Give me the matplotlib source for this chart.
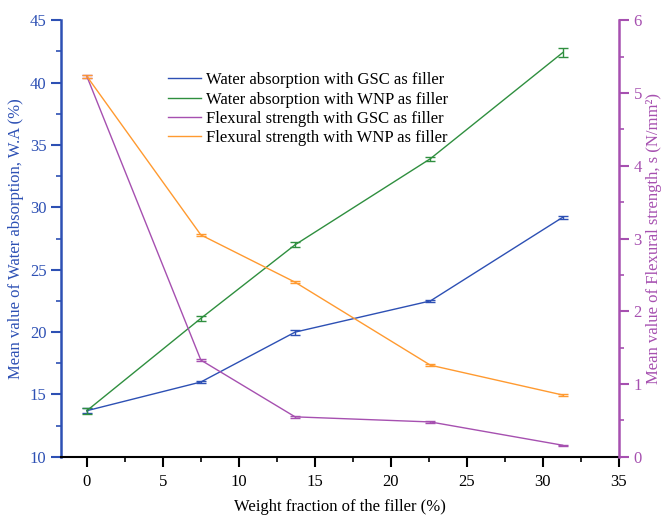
import numpy as np
import matplotlib
matplotlib.use("Agg")
from matplotlib import pyplot as plt
from matplotlib.ticker import MultipleLocator

plt.rcParams['font.family'] = ['Liberation Serif', 'DejaVu Serif']

# filler weight fraction (%)
filler = [0, 7.5, 13.7, 22.6, 31.3]

# water absorption (%)
wa_gsc = [13.7, 16.0, 20.0, 22.5, 29.2]
wa_gsc_err = [0.2, 0.1, 0.2, 0.1, 0.1]
wa_wnp = [13.7, 21.1, 27.0, 33.9, 42.4]
wa_wnp_err = [0.25, 0.2, 0.2, 0.15, 0.35]

# flexural strength (N/mm2)
fs_gsc = [5.23, 1.33, 0.55, 0.48, 0.16]
fs_gsc_err = [0.02, 0.01, 0.01, 0.01, 0.01]
fs_wnp = [5.23, 3.05, 2.40, 1.26, 0.85]
fs_wnp_err = [0.02, 0.01, 0.01, 0.01, 0.01]

blue = '#2d50b4'
green = '#2f8f3f'
purple = '#a650b0'
orange = '#ff9a30'

fig = plt.figure(figsize=(6.65, 5.18), dpi=100)
ax = fig.add_axes([0.0917, 0.118, 0.839, 0.843])
ax2 = ax.twinx()

l1 = ax.errorbar(filler, wa_gsc, yerr=wa_gsc_err, color=blue, lw=1, capsize=3.5,
                 label='Water absorption with GSC as filler')
l2 = ax.errorbar(filler, wa_wnp, yerr=wa_wnp_err, color=green, lw=1, capsize=3.5,
                 label='Water absorption with WNP as filler')
l3 = ax2.errorbar(filler, fs_gsc, yerr=fs_gsc_err, color=purple, lw=1, capsize=3.5,
                  label='Flexural strength with GSC as filler')
l4 = ax2.errorbar(filler, fs_wnp, yerr=fs_wnp_err, color=orange, lw=1, capsize=3.5,
                  label='Flexural strength with WNP as filler')

ax.set_xlim(-1.7, 35)
ax.set_ylim(10, 45)
ax2.set_ylim(0, 6)

ax.xaxis.set_major_locator(MultipleLocator(5))
ax.xaxis.set_minor_locator(MultipleLocator(2.5))
ax.yaxis.set_major_locator(MultipleLocator(5))
ax.yaxis.set_minor_locator(MultipleLocator(2.5))
ax2.yaxis.set_major_locator(MultipleLocator(1))
ax2.yaxis.set_minor_locator(MultipleLocator(0.5))

for a in (ax, ax2):
    a.spines['top'].set_visible(False)
ax2.spines['left'].set_visible(False)
ax2.spines['bottom'].set_visible(False)
ax.spines['right'].set_visible(False)
ax.spines['left'].set_color(blue)
ax.spines['left'].set_linewidth(1.8)
ax2.spines['right'].set_color(purple)
ax2.spines['right'].set_linewidth(1.8)
ax.spines['bottom'].set_linewidth(1.5)

ax.tick_params(axis='x', which='major', direction='out', length=7, width=1.5,
               labelsize=12, pad=5)
ax.tick_params(axis='x', which='minor', direction='out', length=3.5, width=1.2)
ax.tick_params(axis='y', which='major', direction='out', length=7, width=1.5,
               colors=blue, labelsize=12)
ax.tick_params(axis='y', which='minor', direction='out', length=3.5, width=1.2,
               colors=blue)
ax2.tick_params(axis='y', which='major', direction='out', length=7, width=1.5,
                colors=purple, labelsize=12)
ax2.tick_params(axis='y', which='minor', direction='out', length=3.5, width=1.2,
                colors=purple)

ax.set_xlabel('Weight fraction of the filler (%)', fontsize=12, labelpad=7)
ax.set_ylabel('Mean value of Water absorption, W.A (%)', fontsize=12, color=blue)
ax2.set_ylabel('Mean value of Flexural strength, s (N/mm\u00b2)', fontsize=12,
               color=purple, labelpad=3)

handles = [l1.lines[0], l2.lines[0], l3.lines[0], l4.lines[0]]
labels = [h.get_label() for h in (l1, l2, l3, l4)]
ax.legend(handles, labels, loc='upper left', bbox_to_anchor=(0.165, 0.915),
          frameon=False, fontsize=12, handlelength=2.0, handletextpad=0.3,
          labelspacing=0.2)

fig.savefig('out.png', dpi=100)
